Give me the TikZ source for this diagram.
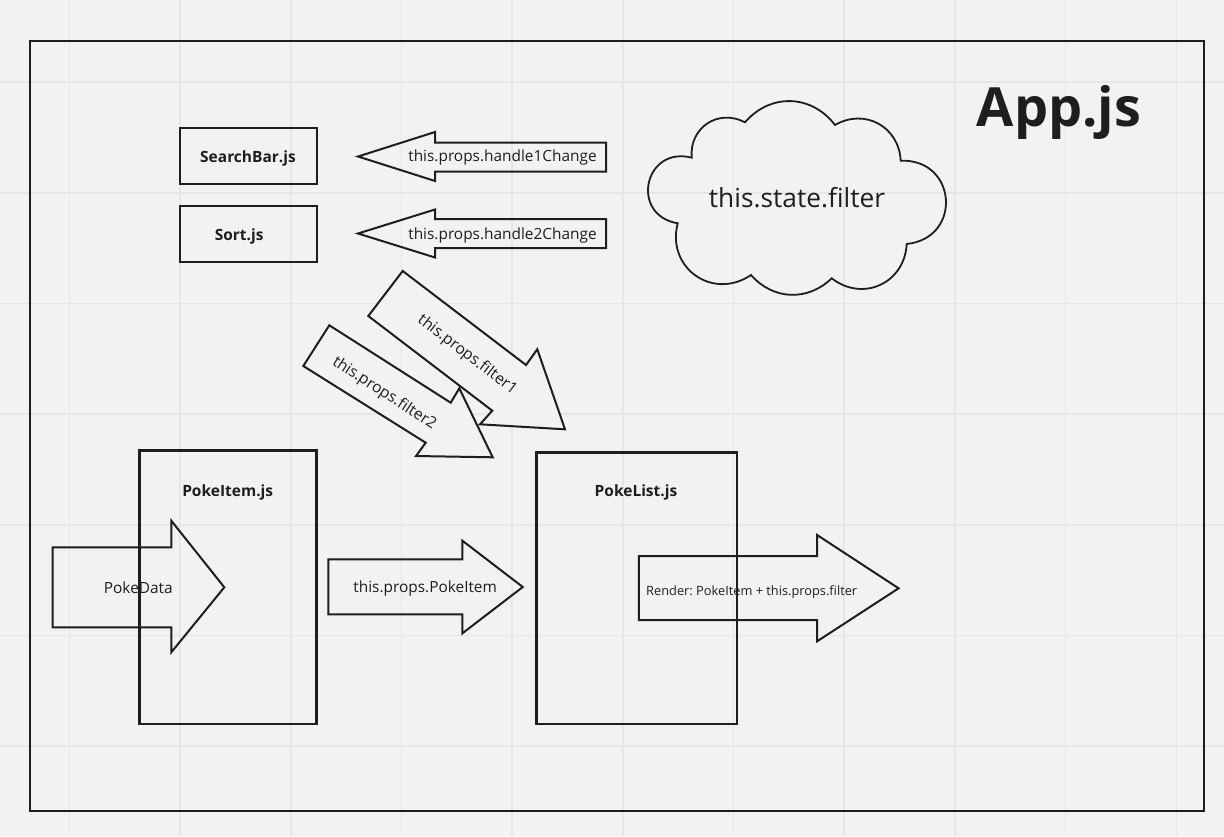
\documentclass[tikz,border=0pt]{standalone}
\usepackage{fontspec}
\setmainfont{Open Sans}
\frenchspacing
\definecolor{bg}{HTML}{F2F2F2}
\definecolor{gridc}{HTML}{E6E6E6}
\definecolor{ink}{HTML}{1E1E1E}
\tikzset{
  outline/.style={draw=ink, line width=2pt, line join=miter},
  boxnode/.style={draw=ink, line width=2.5pt, inner sep=0pt},
  lbl/.style={text=ink, inner sep=0pt, yshift=-1.2pt, font=\fontsize{15.4}{18}\selectfont},
  boldlbl/.style={text=ink, inner sep=0pt, yshift=-1.2pt, font=\bfseries\fontsize{15.5}{18}\selectfont},
  gridline/.style={draw=gridc, line width=1.6pt},
}
\begin{document}
\begin{tikzpicture}[x=1pt,y=-1pt]
\useasboundingbox (0,0) rectangle (1224,836);
\fill[bg] (0,0) rectangle (1224,836);
% grid
\foreach \i in {0,...,10} \draw[gridline] ({69.3+110.7*\i},0) -- ({69.3+110.7*\i},836);
\foreach \j in {0,...,6} \draw[gridline] (0,{82+110.7*\j}) -- (1224,{82+110.7*\j});
% frame
\draw[ink, line width=2pt] (30,41) rectangle (1204,811);
\node[text=ink, inner sep=0pt, font=\bfseries\fontsize{54}{60}\selectfont] (app) at (1059,112) {App.js};
% boxes
\node[boxnode, minimum width=137, minimum height=56] (searchbar) at (248.5,156) {};
\node[boldlbl] (searchbarlbl) at (248,157) {SearchBar.js};
\node[boxnode, minimum width=137, minimum height=56] (sort) at (248.5,234) {};
\node[boldlbl] (sortlbl) at (239.2,235) {Sort.js};
\node[boxnode, minimum width=177.4, minimum height=273.3] (pokeitem) at (228,587.3) {};
\node[boldlbl] (pokeitemlbl) at (227.7,491.7) {PokeItem.js};
\node[boxnode, minimum width=200.2, minimum height=271.3] (pokelist) at (636.7,588.3) {};
\node[boldlbl] (pokelistlbl) at (636,491.7) {PokeList.js};
% cloud
\draw[ink, line width=1.8pt] (691.7,157.7)
  to[bend left=61.4, looseness=1.21] (745,122.3)
  to[bend left=50.9, looseness=1.10] (835,125)
  to[bend left=58.6, looseness=1.17] (900.7,160.7)
  to[bend left=88, looseness=1.73] (906.7,244)
  to[bend left=62.4, looseness=1.22] (831.7,278.3)
  to[bend left=46.4, looseness=1.06] (751,275)
  to[bend left=69.3, looseness=1.32] (677.7,223.3)
  to[bend left=92.4, looseness=1.87] (691.7,157.7) -- cycle;
\node[text=ink, inner sep=0pt, font=\fontsize{26.3}{30}\selectfont] (state) at (797,197.5) {this.state.filter};
% left arrows
\draw[outline] (606,142.5) -- (435,142.5) -- (435,132) -- (358,156.5) -- (435,181) -- (435,171.5) -- (606,171.5) -- cycle;
\node[lbl] (h1) at (502.5,156.5) {this.props.handle1Change};
\draw[outline] (606,219) -- (435,219) -- (435,209.5) -- (358,233.5) -- (435,257.5) -- (435,248) -- (606,248) -- cycle;
\node[lbl] (h2) at (502.5,234) {this.props.handle2Change};
% diagonal arrows
\draw[outline, fill=bg] (402.7,271) -- (526,365) -- (537.3,349.3) -- (565,429.3) -- (480,424.3) -- (492.3,410.7) -- (368.3,316) -- cycle;
\node[text=ink, inner sep=0pt, rotate=-37.4, font=\fontsize{15.7}{18}\selectfont] (f1) at (467.2,355) {this.props.filter1};
\draw[outline, fill=bg] (329.3,325.3) -- (450.7,402.7) -- (459.3,388.3) -- (492.7,457.3) -- (416,456) -- (425.7,442.7) -- (303.3,366) -- cycle;
\node[text=ink, inner sep=0pt, rotate=-33, font=\fontsize{15.7}{18}\selectfont] (f2) at (384.2,393.3) {this.props.filter2};
% bottom arrows
\draw[outline] (52.7,547.3) -- (171.3,547.3) -- (171.3,520.7) -- (224.3,587.3) -- (171.3,652.3) -- (171.3,627.3) -- (52.7,627.3) -- cycle;
\node[lbl] (pokedata) at (138.3,587) {PokeData};
\draw[outline] (328.4,559.3) -- (462.4,559.3) -- (462.4,540.7) -- (522.8,587) -- (462.4,633.3) -- (462.4,614.3) -- (328.4,614.3) -- cycle;
\node[lbl] (propsitem) at (425.2,587) {this.props.PokeItem};
\draw[outline] (638.8,556) -- (817.1,556) -- (817.1,535) -- (898.6,588.3) -- (817.1,641.3) -- (817.1,620) -- (638.8,620) -- cycle;
\node[lbl, font=\fontsize{12.8}{15}\selectfont] (render) at (751.7,590.7) {Render: PokeItem + this.props.filter};
\end{tikzpicture}
\end{document}
